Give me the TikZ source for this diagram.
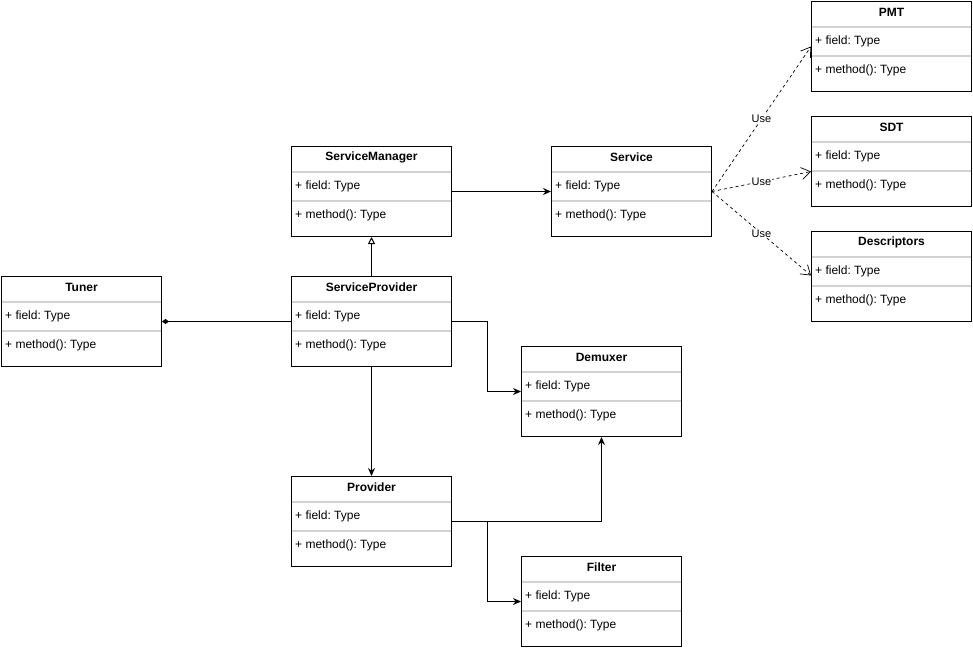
\documentclass[tikz,border=0pt]{standalone}
\usepackage{fontspec}
\setmainfont{Liberation Sans}
\frenchspacing
\usetikzlibrary{arrows.meta}
\tikzset{
    umlbox/.style={draw, line width=1pt, minimum width=160pt, minimum height=90pt, inner sep=0pt, anchor=north west}, % class frame
    umltitle/.style={font=\bfseries\fontsize{12}{14}\selectfont, inner sep=0pt}, % class name
    umlrow/.style={font=\fontsize{12}{14}\selectfont, anchor=west, inner sep=0pt}, % field and method rows
    umlsep/.style={gray!35, line width=1.2pt}, % compartment lines
    assoc/.style={line width=1pt, -{Stealth[length=8pt, width=7pt]}},
    inherit/.style={line width=1pt, -{Triangle[open, length=7pt, width=7pt, fill=white]}},
    compose/.style={line width=1pt, {Diamond[length=7pt, width=5pt]}-},
    uses/.style={line width=0.7pt, dash pattern=on 3pt off 3pt, -{Straight Barb[length=9pt, width=12pt]}},
    uselabel/.style={fill=white, inner sep=1pt, font=\fontsize{11}{13}\selectfont}
}
% name, x, y, title
\newcommand{\umlclass}[4]{%
    \node[umlbox] (#1) at (#2,#3) {};
    \draw[umlsep] ([yshift=-26pt]#1.north west) -- ([yshift=-26pt]#1.north east);
    \draw[umlsep] ([yshift=-55pt]#1.north west) -- ([yshift=-55pt]#1.north east);
    \node[umlbox] at (#2,#3) {};
    \node[umltitle] (#1-name) at ([yshift=-11.5pt]#1.north) {#4};
    \node[umlrow] (#1-field) at ([xshift=4pt, yshift=-40.5pt]#1.north west) {+ field: Type};
    \node[umlrow] (#1-method) at ([xshift=4pt, yshift=-69.5pt]#1.north west) {+ method(): Type};
}

\begin{document}
\begin{tikzpicture}[x=1pt, y=-1pt]
            \useasboundingbox (0,0) rectangle (973,651);

            \umlclass{pmt}{811}{1}{PMT}
            \umlclass{sdt}{811}{116}{SDT}
            \umlclass{descr}{811}{231}{Descriptors}
            \umlclass{manager}{291}{146}{ServiceManager}
            \umlclass{service}{551}{146}{Service}
            \umlclass{tuner}{1}{276}{Tuner}
            \umlclass{sprovider}{291}{276}{ServiceProvider}
            \umlclass{demuxer}{521}{346}{Demuxer}
            \umlclass{provider}{291}{476}{Provider}
            \umlclass{filter}{521}{556}{Filter}

            \draw[assoc] (manager.east) -- (service.west);
            \draw[inherit] (sprovider.north) -- (manager.south);
            \draw[compose] (tuner.east) -- (sprovider.west);
            \draw[assoc] (sprovider.east) -- ++(35,0) |- (demuxer.west);
            \draw[assoc] (sprovider.south) -- (provider.north);
            \draw[assoc] (provider.east) -| (demuxer.south);
            \draw[assoc] (provider.east) -- ++(35,0) |- (filter.west);

            \foreach \t/\s in {pmt/0, sdt/-10, descr/1} {
                \draw[uses] (service.east) -- ([yshift=\s pt]\t.west) node[midway, uselabel] {Use};
            }
        \end{tikzpicture}
\end{document}
